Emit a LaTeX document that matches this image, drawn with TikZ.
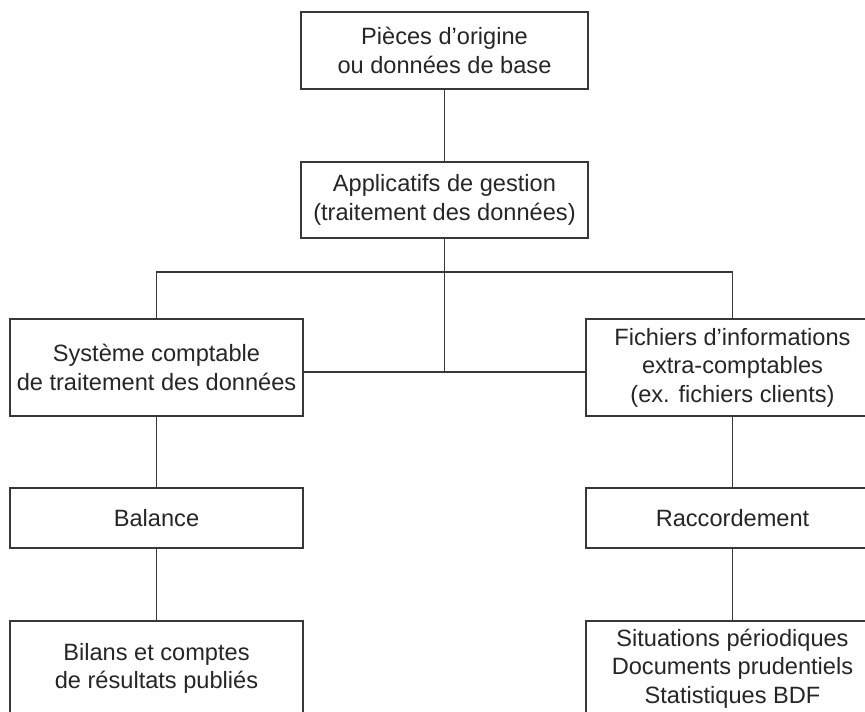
\documentclass[tikz,border=0pt]{standalone}
\usepackage{fontspec}
\setmainfont{Liberation Sans}
\definecolor{ink}{HTML}{262626}
\definecolor{linec}{HTML}{383838}
\begin{document}
\begin{tikzpicture}[x=1pt,y=-1pt,
  box/.style={draw=linec, line width=1.5pt, rectangle, align=center, inner sep=0pt,
    text=ink, font=\fontsize{23.6}{28.5}\selectfont, fill=white},
  conn/.style={draw=linec, line width=1.5pt}]
\useasboundingbox (0,0) rectangle (865,712);
\clip (0,0) rectangle (865,712);
\node[box, minimum width=287pt, minimum height=77pt] (top) at (444.5,50.5) {Pièces d’origine\\ou données de base};
\node[box, minimum width=287pt, minimum height=76pt] (app) at (444.5,200) {Applicatifs de gestion\\(traitement des données)};
\node[box, minimum width=293pt, minimum height=97pt] (sys) at (156.5,367.5) {Système comptable\\de traitement des données};
\node[box, minimum width=293pt, minimum height=97pt] (fich) at (732.5,367.5) {Fichiers d’informations\\extra-comptables\\(ex. fichiers clients)};
\node[box, minimum width=293pt, minimum height=60pt] (bal) at (156.5,518) {Balance};
\node[box, minimum width=293pt, minimum height=60pt] (rac) at (732.5,518) {Raccordement};
\node[box, minimum width=293pt, minimum height=95pt] (bil) at (156.5,668.5) {Bilans et comptes\\de résultats publiés};
\node[box, minimum width=293pt, minimum height=95pt] (sit) at (732.5,668.5) {Situations périodiques\\Documents prudentiels\\Statistiques BDF};
\coordinate (bar) at (444.5,272);
\coordinate (j) at (444.5,372);
\draw[conn] (top) -- (app);
\draw[conn] (app.south) -- (j);
\draw[conn] (sys.north) -- (sys.north |- bar) -- (fich.north |- bar) -- (fich.north);
\draw[conn] (sys.east |- j) -- (fich.west |- j);
\draw[conn] (sys) -- (bal);
\draw[conn] (bal) -- (bil);
\draw[conn] (fich) -- (rac);
\draw[conn] (rac) -- (sit);
\end{tikzpicture}
\end{document}
